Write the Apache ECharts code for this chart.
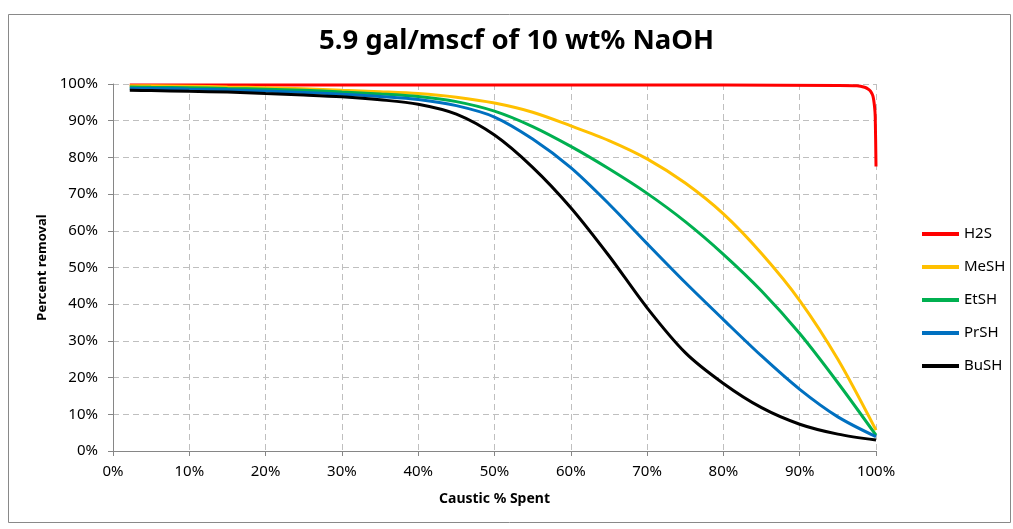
<!DOCTYPE html>
<html>
<head>
<meta charset="utf-8">
<script src="https://cdn.jsdelivr.net/npm/echarts@6/dist/echarts.min.js"></script>
<style>html,body{margin:0;padding:0;background:#fff}#c{width:1013px;height:529px}</style>
</head>
<body>
<div id="c"></div>
<script>
const titleText = '5.9 gal/mscf of 10 wt% NaOH';
const xAxisName = 'Caustic % Spent';
const yAxisName = 'Percent removal';
const seriesNames = ['H2S', 'MeSH', 'EtSH', 'PrSH', 'BuSH'];
const seriesColors = ['#FF0000', '#FFC000', '#00B050', '#0070C0', '#000000'];

// Caustic % spent (x) for the mercaptan curves
const xPoints = [2.2, 5, 10, 15, 20, 25, 30, 35, 40, 45, 50, 55, 60, 65, 70, 75, 80, 85, 90, 95, 100];
const meshValues = [99.5, 99.5, 99.4, 99.2, 99.0, 98.7, 98.3, 97.9, 97.4, 96.4, 94.8, 92.3, 88.6, 84.6, 79.6, 73.0, 64.6, 53.8, 41.0, 25.0, 5.7];
const etshValues = [99.2, 99.1, 99.0, 98.8, 98.6, 98.3, 97.8, 97.3, 96.6, 95.2, 92.6, 88.4, 83.0, 76.9, 70.2, 62.5, 53.6, 43.6, 32.0, 18.6, 4.3];
const prshValues = [98.8, 98.8, 98.6, 98.4, 98.1, 97.7, 97.2, 96.6, 95.8, 94.1, 91.0, 85.0, 77.2, 67.3, 56.5, 45.9, 35.8, 25.9, 16.8, 9.3, 3.9];
const bushValues = [98.3, 98.2, 98.0, 97.8, 97.4, 97.0, 96.5, 95.7, 94.5, 91.8, 86.1, 77.3, 66.3, 53.2, 39.0, 26.8, 18.4, 11.8, 7.3, 4.6, 3.0];

// H2S curve has its own x points (sharp drop at the very end)
const h2sX = [2.2, 20, 40, 60, 80, 95, 97.5, 98.5, 99, 99.3, 99.6, 99.8, 99.9, 100];
const h2sValues = [99.7, 99.7, 99.7, 99.7, 99.7, 99.6, 99.5, 99.1, 98.6, 98.0, 96.7, 94.0, 91.0, 77.5];

const xTicks = [0, 10, 20, 30, 40, 50, 60, 70, 80, 90, 100];
const yTicks = [0, 10, 20, 30, 40, 50, 60, 70, 80, 90, 100];

const pairs = (xs, ys) => xs.map((x, i) => [x, ys[i]]);
const seriesData = [
  pairs(h2sX, h2sValues),
  pairs(xPoints, meshValues),
  pairs(xPoints, etshValues),
  pairs(xPoints, prshValues),
  pairs(xPoints, bushValues)
];

const FONT = "'Noto Sans', 'Open Sans', sans-serif";
const chart = echarts.init(document.getElementById('c'), null, { renderer: 'canvas' });

const gridLine = { show: true, lineStyle: { color: '#BFBFBF', type: [6, 4], width: 1 } };
const axisLine = { show: true, lineStyle: { color: '#868686', width: 1 } };

chart.setOption({
  animation: false,
  backgroundColor: '#fff',
  title: {
    text: titleText,
    left: 314,
    top: 22,
    textStyle: { fontFamily: FONT, fontSize: 27.5, fontWeight: 'bold', color: '#000' }
  },
  graphic: [{
    type: 'rect',
    shape: { x: 8.5, y: 14.5, width: 1002, height: 508 },
    style: { fill: 'none', stroke: '#898989', lineWidth: 1 },
    silent: true,
    z: -1
  }],
  legend: {
    orient: 'vertical',
    left: 922,
    top: 225,
    padding: 0,
    itemWidth: 37,
    itemHeight: 4,
    itemGap: 15,
    icon: 'rect',
    data: seriesNames,
    textStyle: { fontFamily: FONT, fontSize: 15, color: '#000', lineHeight: 18 }
  },
  grid: { left: 113, right: 137, top: 84, bottom: 78, containLabel: false },
  xAxis: {
    type: 'value',
    min: xTicks[0],
    max: xTicks[xTicks.length - 1],
    interval: xTicks[1] - xTicks[0],
    name: xAxisName,
    nameLocation: 'middle',
    nameGap: 41,
    nameTextStyle: { fontFamily: FONT, fontSize: 14, fontWeight: 'bold', color: '#000' },
    axisLine: axisLine,
    axisTick: { show: true, length: 5, lineStyle: { color: '#868686' } },
    axisLabel: { formatter: '{value}%', fontFamily: FONT, fontSize: 15, color: '#000', margin: 13 },
    splitLine: gridLine
  },
  yAxis: {
    type: 'value',
    min: yTicks[0],
    max: yTicks[yTicks.length - 1],
    interval: yTicks[1] - yTicks[0],
    name: yAxisName,
    nameLocation: 'middle',
    nameGap: 64,
    nameTextStyle: { fontFamily: FONT, fontSize: 13, fontWeight: 'bold', color: '#000' },
    axisLine: axisLine,
    axisTick: { show: true, length: 5, lineStyle: { color: '#868686' } },
    axisLabel: { formatter: '{value}%', fontFamily: FONT, fontSize: 15, color: '#000', margin: 15 },
    splitLine: gridLine
  },
  series: seriesNames.map((name, i) => ({
    name: name,
    type: 'line',
    data: seriesData[i],
    showSymbol: false,
    symbol: 'none',
    smooth: i === 0 ? 0.25 : 0.3,
    color: seriesColors[i],
    lineStyle: { color: seriesColors[i], width: 3 },
    z: 2 + i
  }))
});
</script>
</body>
</html>
